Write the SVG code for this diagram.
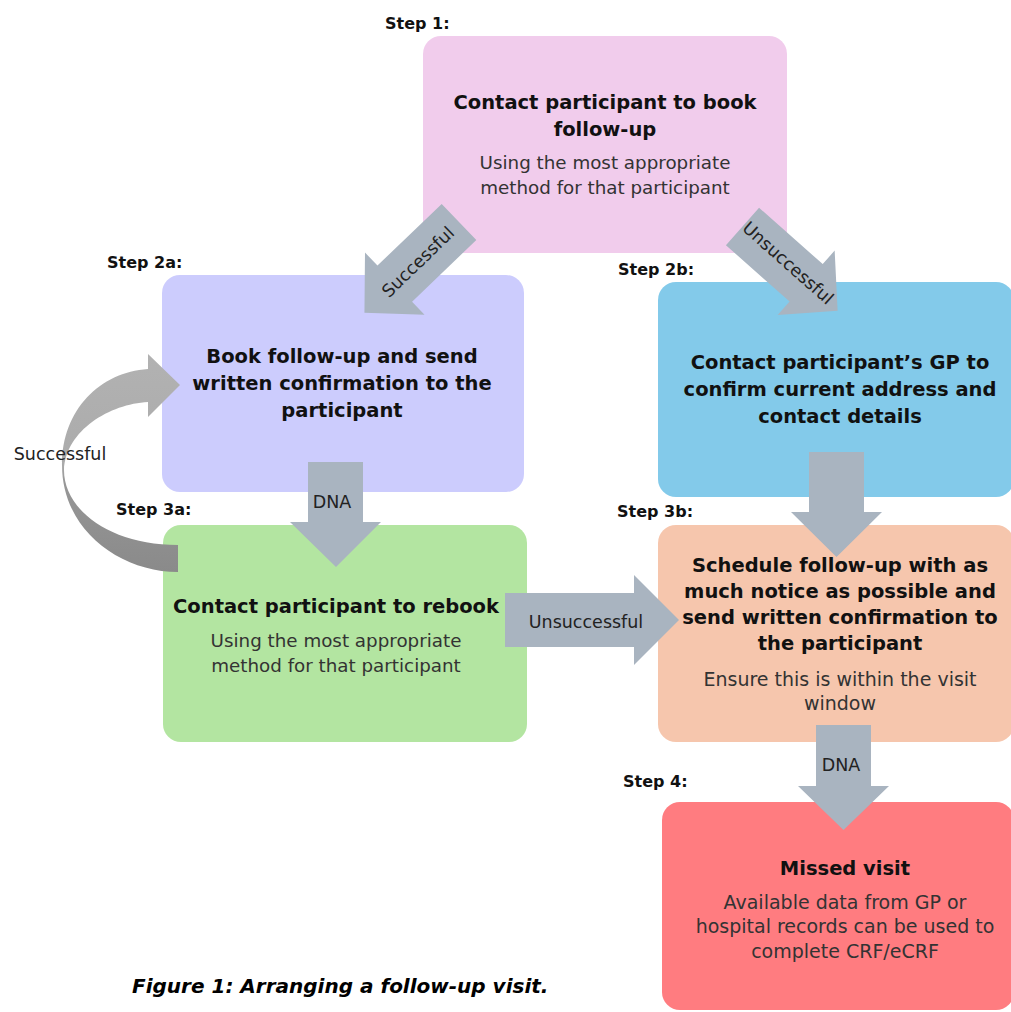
<svg xmlns="http://www.w3.org/2000/svg" width="1011" height="1012" viewBox="0 0 1011 1012">
<defs>
<style>
.t{font-family:"DejaVu Sans",sans-serif;font-weight:bold;font-size:19.5px;fill:#111;text-anchor:middle}
.b{font-family:"DejaVu Sans",sans-serif;font-size:18.3px;fill:#333;text-anchor:middle}
.b2{font-family:"DejaVu Sans",sans-serif;font-size:19px;fill:#333;text-anchor:middle}
.s{font-family:"DejaVu Sans",sans-serif;font-weight:bold;font-size:16px;fill:#111}
.l{font-family:"DejaVu Sans",sans-serif;font-size:17.5px;fill:#222;text-anchor:middle}
.arr{fill:#A9B4C0}
.cap{font-family:"DejaVu Sans",sans-serif;font-weight:bold;font-style:italic;font-size:20px;fill:#000}
</style>
<linearGradient id="cg" x1="0" y1="0" x2="0" y2="1">
<stop offset="0" stop-color="#B2B2B2"/>
<stop offset="0.5" stop-color="#ABABAB"/>
<stop offset="0.58" stop-color="#979797"/>
<stop offset="1" stop-color="#8A8A8A"/>
</linearGradient>
</defs>
<rect width="1011" height="1012" fill="#fff"/>

<g id="step1">
<text class="s" x="385" y="29">Step 1:</text>
<rect x="423" y="36" width="364" height="217" rx="18" fill="#F1CCEC"/>
<text class="t" x="605" y="109">Contact participant to book</text>
<text class="t" x="605" y="136">follow-up</text>
<text class="b" x="605" y="169">Using the most appropriate</text>
<text class="b" x="605" y="194">method for that participant</text>
</g>

<g id="step2a">
<text class="s" x="107" y="268">Step 2a:</text>
<rect x="162" y="275" width="362" height="217" rx="18" fill="#CCCCFD"/>
<text class="t" x="342" y="363">Book follow-up and send</text>
<text class="t" x="342" y="390">written confirmation to the</text>
<text class="t" x="342" y="417">participant</text>
</g>

<g id="step2b">
<text class="s" x="618" y="275">Step 2b:</text>
<rect x="658" y="282" width="356" height="215" rx="18" fill="#83CAEA"/>
<text class="t" x="840" y="369">Contact participant’s GP to</text>
<text class="t" x="840" y="396">confirm current address and</text>
<text class="t" x="840" y="423">contact details</text>
</g>

<g id="step3a">
<text class="s" x="116" y="515">Step 3a:</text>
<rect x="163" y="525" width="364" height="217" rx="18" fill="#B3E5A1"/>
<text class="t" x="336" y="613">Contact participant to rebook</text>
<text class="b" x="336" y="647">Using the most appropriate</text>
<text class="b" x="336" y="672">method for that participant</text>
</g>

<g id="step3b">
<text class="s" x="617" y="517">Step 3b:</text>
<rect x="658" y="525" width="356" height="217" rx="18" fill="#F6C6AD"/>
<text class="t" x="840" y="572">Schedule follow-up with as</text>
<text class="t" x="840" y="598">much notice as possible and</text>
<text class="t" x="840" y="624">send written confirmation to</text>
<text class="t" x="840" y="650">the participant</text>
<text class="b2" x="840" y="686">Ensure this is within the visit</text>
<text class="b2" x="840" y="710">window</text>
</g>

<g id="step4">
<text class="s" x="623" y="787">Step 4:</text>
<rect x="662" y="802" width="352" height="208" rx="18" fill="#FF7C80"/>
<text class="t" x="845" y="875">Missed visit</text>
<text class="b2" x="845" y="909">Available data from GP or</text>
<text class="b2" x="845" y="933">hospital records can be used to</text>
<text class="b2" x="845" y="958">complete CRF/eCRF</text>
</g>

<g id="connectors">
<g transform="translate(459,222) rotate(136.2)">
<polygon class="arr" points="0,-25 89,-25 89,-43 131,0 89,43 89,25 0,25"/>
</g>
<text class="l" transform="translate(418,262) rotate(-44)" x="0" y="6">Successful</text>

<g transform="translate(742.5,226.5) rotate(41.5)">
<polygon class="arr" points="0,-25 85,-25 85,-43 127,0 85,43 85,25 0,25"/>
</g>
<text class="l" transform="translate(788,263) rotate(41.5)" x="0" y="6">Unsuccessful</text>

<polygon class="arr" points="308,462 363,462 363,522 381,522 336,567 290,522 308,522"/>
<text class="l" x="332" y="508">DNA</text>

<polygon class="arr" points="809,452 864,452 864,512 882,512 836.5,557 791,512 809,512"/>

<polygon class="arr" points="505,593 634,593 634,575 679,620 634,665 634,647 505,647"/>
<text class="l" x="586" y="628">Unsuccessful</text>

<polygon class="arr" points="816,725 871,725 871,786 889,786 843.5,830 798,786 816,786"/>
<text class="l" x="841" y="771">DNA</text>

<path d="M178,572 C120,572 62,530 62,465 C62,410 100,372 148,369 L148,354 L180,385 L148,417 L148,402 C110,404 66,430 64,470 C64,510 110,545 178,545 Z" fill="url(#cg)"/>
<text class="l" x="60" y="460">Successful</text>
</g>

<text class="cap" x="132" y="993">Figure 1: Arranging a follow-up visit.</text>
</svg>
